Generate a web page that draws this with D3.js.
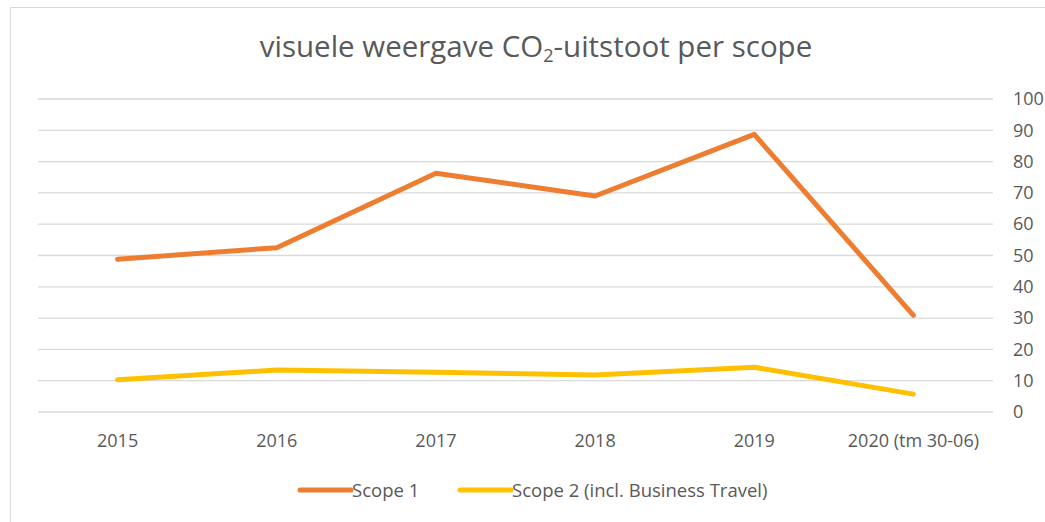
<!DOCTYPE html>
<html lang="nl">
<head>
  <meta charset="UTF-8">
  <title>visuele weergave CO2-uitstoot per scope</title>
  <script src="https://d3js.org/d3.v7.min.js"></script>
  <style>
    html, body { margin: 0; padding: 0; background: #fff; }
    text { font-family: "Open Sans", sans-serif; fill: #595959; }
  </style>
</head>
<body>
  <div id="chart"></div>

  <script>
    // data
    const categories = ["2015", "2016", "2017", "2018", "2019", "2020 (tm 30-06)"];
    const scope1 = [48.8, 52.5, 76.3, 69.0, 88.7, 30.9];
    const scope2 = [10.3, 13.4, 12.7, 11.8, 14.3, 5.7];
    const yTicks = [0, 10, 20, 30, 40, 50, 60, 70, 80, 90, 100];
    const seriesNames = ["Scope 1", "Scope 2 (incl. Business Travel)"];
    const seriesColors = ["#ED7D31", "#FFC000"];

    const width = 1045, height = 522;
    const svg = d3.select("#chart").append("svg")
      .attr("width", width)
      .attr("height", height);

    // chart area border
    svg.append("rect")
      .attr("x", 10.5).attr("y", 7.5)
      .attr("width", 1100).attr("height", 600)
      .attr("fill", "none")
      .attr("stroke", "#d9d9d9");

    // title
    const title = svg.append("text")
      .attr("x", 536).attr("y", 57)
      .attr("text-anchor", "middle")
      .style("font-size", "29.5px");
    title.append("tspan").text("visuele weergave CO");
    title.append("tspan").attr("dy", 5).style("font-size", "18px").text("2");
    title.append("tspan").attr("dy", -5).text("-uitstoot per scope");

    const x = d3.scaleBand().domain(categories).range([38, 993]);
    const y = d3.scaleLinear().domain([0, 100]).range([412, 99]);

    // gridlines
    svg.append("g").selectAll("line")
      .data(yTicks)
      .join("line")
      .attr("x1", 38).attr("x2", 993)
      .attr("y1", d => y(d)).attr("y2", d => y(d))
      .attr("stroke", "#d9d9d9")
      .attr("stroke-width", 1.3);

    // right value axis
    const yAxis = svg.append("g")
      .attr("transform", "translate(1000,0)")
      .call(d3.axisRight(y).tickValues(yTicks).tickSize(0).tickPadding(13));
    yAxis.select(".domain").remove();
    yAxis.selectAll("text")
      .style("font-size", "18px")
      .attr("fill", "#595959");

    // category axis
    const xAxis = svg.append("g")
      .attr("transform", "translate(0,430)")
      .call(d3.axisBottom(x).tickSize(0).tickPadding(4));
    xAxis.select(".domain").remove();
    xAxis.selectAll("text")
      .style("font-size", "18px")
      .attr("fill", "#595959");

    // lines
    const line = d3.line()
      .x((d, i) => x(categories[i]) + x.bandwidth() / 2)
      .y(d => y(d));

    [scope1, scope2].forEach((s, i) => {
      svg.append("path")
        .attr("fill", "none")
        .attr("stroke", seriesColors[i])
        .attr("stroke-width", 5)
        .attr("stroke-linejoin", "round")
        .attr("stroke-linecap", "round")
        .attr("d", line(s));
    });

    // legend
    const legendX = [300, 460];
    const legend = svg.append("g");
    seriesNames.forEach((name, i) => {
      legend.append("line")
        .attr("x1", legendX[i]).attr("x2", legendX[i] + 51)
        .attr("y1", 490).attr("y2", 490)
        .attr("stroke", seriesColors[i])
        .attr("stroke-width", 5)
        .attr("stroke-linecap", "round");
      legend.append("text")
        .attr("x", legendX[i] + 52).attr("y", 497)
        .style("font-size", "18.5px")
        .text(name);
    });
  </script>
</body>
</html>
